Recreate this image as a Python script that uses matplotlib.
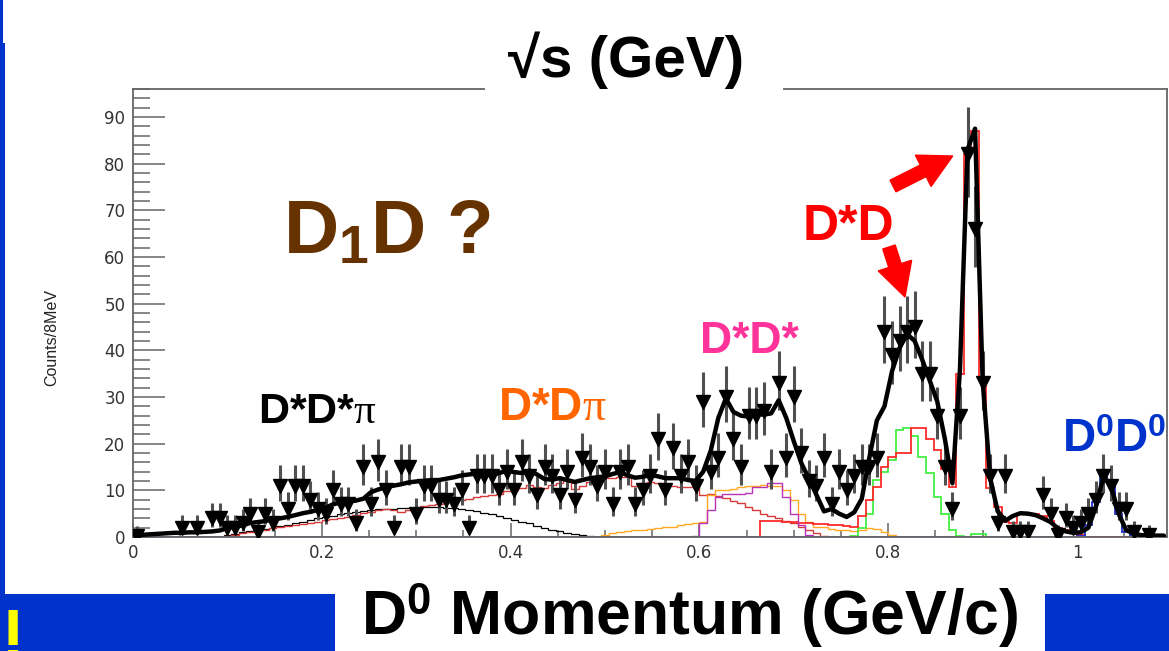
import numpy as np
import matplotlib
matplotlib.use("Agg")
import matplotlib.pyplot as plt
from matplotlib.patches import Rectangle, FancyArrow
from matplotlib.transforms import Affine2D
from matplotlib.ticker import MultipleLocator, FuncFormatter

plt.rcParams["mathtext.fontset"] = "custom"
plt.rcParams["mathtext.rm"] = "Liberation Sans"
plt.rcParams["mathtext.bf"] = "Liberation Sans:bold"
plt.rcParams["mathtext.it"] = "Liberation Serif"

# ---------------- data: D0 momentum spectrum, 8 MeV bins ----------------
BIN_WIDTH = 0.008

# bin contents (empty bins are left undrawn)
counts = [
    0.3, 0, 0, 0, 0, 0, 2, 0, 2, 0,
    4, 4, 2, 2, 3, 5, 1, 5, 3, 11,
    6, 11, 11, 8, 6, 5, 10, 7, 7, 3,
    15, 7, 16, 10, 2, 15, 15, 5, 11, 11,
    8, 8, 7, 10, 2, 13, 13, 13, 10, 14,
    10, 16, 13, 9, 15, 13, 9, 14, 8, 17,
    15, 11, 14, 7, 14, 15, 7, 10, 13, 21,
    10, 19, 13, 16, 11, 29, 14, 17, 30, 21,
    15, 26, 26, 27, 14, 33, 17, 30, 18, 12,
    11, 17, 7, 14, 10, 13, 15, 15, 17, 44,
    39, 42, 44, 45, 35, 35, 26, 15, 6, 26,
    82, 66, 33, 13, 3, 13, 1, 1, 1, 0,
    9, 5, 0.4, 4, 2, 3, 5, 8, 13, 11,
    6, 6, 1, 0, 0.4, 0, 0,
]

fit_total = [
    0.3, 0.5, 0.6, 0.7, 0.8, 0.9, 0.9, 1.0, 1.0, 1.1,
    1.2, 1.4, 1.9, 2.2, 2.5, 3.0, 3.2, 3.4, 3.8, 4.0,
    4.3, 4.7, 5.1, 5.4, 5.8, 6.3, 7.0, 7.4, 7.6, 7.8,
    8.2, 9.6, 10.2, 10.7, 11.0, 11.3, 11.7, 11.9, 12.0, 12.2,
    12.2, 12.5, 12.8, 13.2, 13.4, 13.6, 13.5, 13.3, 13.7, 14.2,
    13.9, 13.7, 14.2, 13.4, 12.4, 12.3, 12.6, 12.2, 11.8, 12.2,
    12.6, 12.8, 13.0, 13.5, 13.9, 13.2, 12.7, 12.9, 13.3, 13.0,
    12.6, 12.6, 12.6, 12.2, 12.0, 14.0, 18.5, 25.5, 29.7, 26.8,
    26.0, 25.8, 26.4, 26.2, 26.5, 29.3, 25.5, 20.5, 15.8, 12.5,
    9.0, 5.5, 6.0, 5.0, 4.3, 5.3, 8.2, 17.0, 25.0, 28.0,
    35.5, 40.5, 43.5, 42.0, 38.0, 33.5, 29.0, 21.0, 11.5, 36.0,
    83.0, 87.5, 33.5, 12.6, 5.5, 3.5, 4.5, 5.1, 5.0, 4.7,
    4.0, 3.2, 1.8, 1.2, 0.9, 1.0, 2.0, 6.5, 13.0, 11.0,
    5.0, 1.5, 0.7, 0.4, 0.3, 0.3, 0.3,
]

# component histograms: (first bin, contents)
dsdspi_start = 12
dsdspi = [0.5, 0.7, 1.0, 1.2, 1.5, 1.8, 2.0, 2.3, 2.6,
          3.0, 3.3, 3.6, 4.0, 4.3, 4.6, 4.9, 5.1, 5.3, 5.5,
          5.7, 5.9, 6.0, 6.1, 6.2, 6.3, 6.3, 6.4, 6.4, 6.4, 6.3, 6.2, 6.0, 5.8, 5.5,
          5.2, 4.9, 4.5, 4.1, 3.7, 3.3, 2.9, 2.4, 2.0, 1.6, 1.2, 0.9, 0.6, 0.4, 0.2,
          0.1]

dsdpi_start = 12
dsdpi = [0.3, 0.5, 0.8, 1.0, 1.2, 1.6, 2.0, 2.2, 2.4,
         2.6, 2.8, 3.0, 3.3, 3.6, 3.8, 4.0, 4.3, 4.7, 5.2,
         5.4, 5.8, 6.0, 5.8, 5.3, 5.8, 6.2, 6.6, 6.8, 7.0, 7.4, 7.6, 7.9, 8.2, 8.5,
         8.8, 9.0, 9.3, 9.8, 10.0, 10.5, 11.1, 10.8, 10.5, 11.2, 11.5, 12.2, 10.3, 11.0, 11.8,
         12.0, 12.6, 12.6, 12.9, 12.8, 11.0, 11.5, 11.8, 11.5, 11.3, 11.0, 10.8, 10.8, 10.8, 9.0,
         9.2, 8.8, 8.3, 7.8, 7.2, 6.5, 5.8, 5.0, 4.5, 4.0, 3.5, 3.0, 2.2, 1.5, 0.8,
         0.3]

dsd_start = 83
dsd = [3.5, 3.5, 3.5, 3.3, 3.2, 3.0, 3.0, 2.8, 2.8, 2.5, 2.5, 2.3, 2.2,
       4.5, 7.9, 10.8, 15.0, 17.2, 18.0, 18.0, 23.3, 23.3, 21.0, 18.6, 14.5, 10.8,
       35.0, 82.0, 87.0, 34.0, 10.5, 6.5, 3.3, 3.0, 5.0, 5.0, 5.0, 4.5, 3.5, 2.0, 1.5, 1.0, 0.5]

dsd_green_start = 95
dsd_green = [0.3, 2.0, 5.0, 12.2, 14.0, 16.5, 23.0, 23.3, 21.6, 17.2, 13.7, 8.5, 5.0, 1.5,
             0.2, 0.0, 0.6, 0.6]

dsds_orange_start = 62
dsds_orange = [0.5, 0.8, 1.0, 1.2, 1.5, 1.5, 1.7, 2.0, 2.2, 2.2, 2.5, 2.8, 3.0, 3.2,
               9.0, 10.0, 10.0, 10.2, 10.8, 11.0, 11.0, 11.1, 11.0, 11.0, 10.0, 8.0, 5.0, 3.3, 2.2,
               2.2, 1.8, 1.5, 1.5, 1.2, 1.5, 2.0, 1.8, 1.0, 0.5]

dsds_start = 74
dsds = [0.3, 3.0, 5.8, 8.6, 9.3, 9.3, 9.3, 9.5, 10.8, 10.8, 11.5, 11.5, 8.6, 5.0, 2.5, 0.5]

d0d0_start = 125
d0d0 = [0.3, 2.5, 7.5, 13.3, 11.5, 5.0, 1.0, 0.2]

x_ticks = [0, 0.2, 0.4, 0.6, 0.8, 1.0]
y_ticks = [0, 10, 20, 30, 40, 50, 60, 70, 80, 90]

# ---------------- derived arrays ----------------
nb = len(counts)
edges = BIN_WIDTH * np.arange(nb + 1)
centers = edges[:-1] + BIN_WIDTH / 2


def padded(start, vals):
    arr = np.zeros(nb)
    arr[start:start + len(vals)] = vals
    return arr


n = np.asarray(counts, float)
filled = n > 0
err_lo = np.sqrt(np.clip(n - 0.25, 0, None))
err_hi = np.sqrt(n + 0.75) + 1.0

# ---------------- figure ----------------
W, H = 1169, 651
fig = plt.figure(figsize=(W / 100, H / 100), dpi=100)
fig.patch.set_facecolor("white")
px = Affine2D().scale(1 / W, 1 / H) + fig.transFigure  # pixel coords, origin bottom-left

ax = fig.add_axes([133 / W, (H - 537) / H, (1167 - 133) / W, (537 - 89) / H])
ax.set_xlim(0, 1.0953)
ax.set_ylim(0, 96.0)

hist_lw = 1.0
ax.stairs(padded(dsdspi_start, dsdspi), edges, color="black", lw=0.9, zorder=2)
ax.stairs(padded(dsdpi_start, dsdpi), edges, color="#d83a3a", lw=hist_lw, zorder=2)
ax.stairs(padded(dsds_orange_start, dsds_orange), edges, color="#ffaa22", lw=hist_lw, zorder=2)
ax.stairs(padded(dsd_green_start, dsd_green), edges, color="#33ee33", lw=1.2, zorder=2)
ax.stairs(padded(dsd_start, dsd), edges, color="#ff2a2a", lw=1.3, zorder=2)
ax.stairs(padded(d0d0_start, d0d0), edges, color="#1f2fd0", lw=1.3, zorder=2)
ax.stairs(padded(dsds_start, dsds), edges, color="#b833b8", lw=hist_lw, zorder=2)

ax.errorbar(centers[filled], n[filled], yerr=[err_lo[filled], err_hi[filled]], fmt="none",
            ecolor="#505050", elinewidth=2.2, capsize=0, zorder=3)
ax.plot(centers[filled], n[filled], linestyle="none", marker="v", ms=10, color="black",
        zorder=4)
ax.plot(centers, fit_total, color="black", lw=3.2, zorder=5,
        solid_joinstyle="round", solid_capstyle="round")

for s in ax.spines.values():
    s.set_color("#666666")
    s.set_linewidth(1.3)

ax.set_xticks(x_ticks)
ax.set_yticks(y_ticks)
ax.xaxis.set_minor_locator(MultipleLocator(0.05))
ax.yaxis.set_minor_locator(MultipleLocator(2))
fmt = FuncFormatter(lambda v, p: f"{v:g}")
ax.xaxis.set_major_formatter(fmt)
ax.yaxis.set_major_formatter(fmt)
ax.tick_params(axis="y", which="major", direction="in", length=23, width=1.1,
               color="#666666", labelcolor="#333333", labelsize=12, pad=5.5)
ax.tick_params(axis="y", which="minor", direction="in", length=12, width=1.1, color="#666666")
ax.tick_params(axis="x", which="major", direction="in", length=10, width=1.1,
               color="#666666", labelcolor="#333333", labelsize=12, pad=5)
ax.tick_params(axis="x", which="minor", direction="in", length=5, width=1.1, color="#666666")

# ---------------- slide decorations ----------------
blue = "#0033cc"
for (x0, y0, w, h) in [(0, 0, 3, 43), (0, 43, 5, 551), (0, 594, 335, 57), (1045, 594, 124, 57)]:
    fig.add_artist(Rectangle((x0, H - y0 - h), w, h, transform=px, facecolor=blue,
                             edgecolor="none", zorder=1))
# white panel behind the title, interrupting the frame
fig.add_artist(Rectangle((485, H - 96), 298, 16, transform=px, facecolor="white",
                         edgecolor="none", zorder=3))

sans = ["Liberation Sans", "DejaVu Sans"]


def label(x, y, s, **kw):
    kw.setdefault("family", sans)
    kw.setdefault("ha", "left")
    kw.setdefault("va", "baseline")
    fig.text(x, H - y, s, transform=px, zorder=6, **kw)


label(626, 77, "√s (GeV)", ha="center", fontsize=42, weight="bold", color="black")
label(690, 635, r"D$^{\mathbf{0}}$ Momentum (GeV/c)", ha="center", fontsize=45,
      weight="bold", color="black")
label(-47, 660, "P!", fontsize=52, weight="bold", color="#ffff00")
label(52, 337, "Counts/8MeV", ha="center", va="center", rotation=90, fontsize=11.5,
      color="#222222")

label(283, 253, r"D$_{\mathbf{1}}$D ?", fontsize=55, weight="bold", color="#663300")
label(258, 423, r"D*D*$\pi$", fontsize=31, weight="bold", color="black")
label(498, 420, r"D*D$\pi$", fontsize=33, weight="bold", color="#ff6600")
label(700, 353, "D*D*", fontsize=32, weight="bold", color="#ff3399")
label(803, 240, "D*D", fontsize=36, weight="bold", color="#ff0000")
label(1062, 452, r"D$^{\mathbf{0}}$D$^{\mathbf{0}}$", fontsize=33, weight="bold",
      color="#0033cc")

# arrows pointing at the two D*D structures
for (xt, yt, xh, yh) in [(893, 186, 952.7, 156), (889, 247, 905, 297)]:
    fig.add_artist(FancyArrow(xt, H - yt, xh - xt, -(yh - yt), width=13, head_width=35,
                              head_length=33, length_includes_head=True, transform=px,
                              color="#ff0000", zorder=6))

fig.savefig("out.png", dpi=100)
